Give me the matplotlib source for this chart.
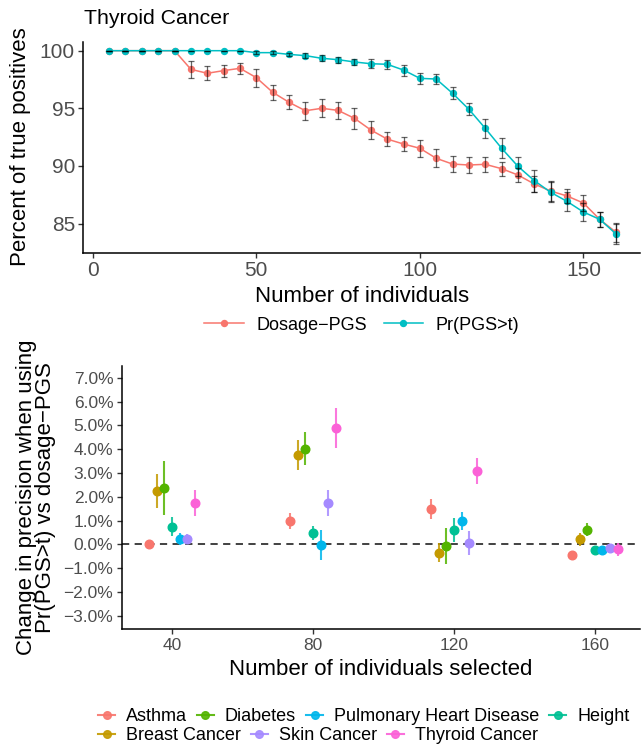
import matplotlib
matplotlib.use('Agg')
import matplotlib.pyplot as plt
from matplotlib.lines import Line2D
import numpy as np

plt.rcParams['font.family'] = ['Liberation Sans', 'DejaVu Sans']

# ---------------- data: top panel ----------------
n_individuals = [5, 10, 15, 20, 25, 30, 35, 40, 45, 50, 55, 60, 65, 70, 75, 80,
                 85, 90, 95, 100, 105, 110, 115, 120, 125, 130, 135, 140, 145, 150, 155, 160]
dosage_pgs = [100, 100, 100, 100, 100, 98.38, 98.04, 98.27, 98.47, 97.66, 96.39, 95.52,
              94.79, 95.0, 94.82, 94.13, 93.12, 92.33, 91.90, 91.53, 90.66, 90.16, 90.08,
              90.14, 89.76, 89.21, 88.43, 87.82, 87.39, 86.78, 85.36, 84.23]
dosage_err = [0, 0, 0, 0, 0, 0.75, 0.6, 0.53, 0.46, 0.78, 0.67, 0.6, 0.8, 0.77, 0.77, 0.93,
              0.8, 0.6, 0.62, 0.74, 0.77, 0.68, 0.67, 0.64, 0.62, 0.6, 0.67, 0.87, 0.65,
              0.67, 0.68, 0.85]
pr_pgs = [100, 100, 100, 100, 100, 100, 100, 100, 100, 99.83, 99.83, 99.68, 99.57, 99.34,
          99.22, 99.02, 98.87, 98.82, 98.32, 97.60, 97.54, 96.30, 94.91, 93.26, 91.53,
          89.96, 88.72, 87.71, 86.92, 86.0, 85.36, 84.09]
pr_err = [0, 0, 0, 0, 0, 0, 0, 0, 0, 0.15, 0.15, 0.15, 0.2, 0.25, 0.25, 0.25, 0.39, 0.4,
          0.48, 0.49, 0.4, 0.52, 0.52, 0.82, 0.85, 0.85, 0.95, 0.87, 0.82, 0.77, 0.68, 0.87]
top_xticks = [0, 50, 100, 150]
top_yticks = [85, 90, 95, 100]

# ---------------- data: bottom panel ----------------
n_selected = [40, 80, 120, 160]
traits = ['Asthma', 'Breast Cancer', 'Diabetes', 'Height',
          'Pulmonary Heart Disease', 'Skin Cancer', 'Thyroid Cancer']
trait_colors = ['#F8766D', '#C49A00', '#53B400', '#00C094', '#00B6EB', '#A58AFF', '#FB61D7']
asthma = [0.0, 0.98, 1.49, -0.46]
asthma_err = [0.05, 0.32, 0.43, 0.08]
breast = [2.24, 3.76, -0.35, 0.22]
breast_err = [0.70, 0.64, 0.41, 0.27]
diabetes = [2.36, 4.03, -0.07, 0.62]
diabetes_err = [1.14, 0.69, 0.74, 0.26]
height = [0.74, 0.49, 0.59, -0.25]
height_err = [0.41, 0.30, 0.50, 0.08]
pulmonary = [0.22, -0.03, 0.98, -0.22]
pulmonary_err = [0.25, 0.62, 0.39, 0.08]
skin = [0.22, 1.74, 0.07, -0.14]
skin_err = [0.22, 0.53, 0.50, 0.10]
thyroid = [1.74, 4.89, 3.09, -0.21]
thyroid_err = [0.55, 0.83, 0.54, 0.27]
bottom_yticks = [-3, -2, -1, 0, 1, 2, 3, 4, 5, 6, 7]
bottom_xticks = [40, 80, 120, 160]

values = [asthma, breast, diabetes, height, pulmonary, skin, thyroid]
errors = [asthma_err, breast_err, diabetes_err, height_err, pulmonary_err, skin_err, thyroid_err]

W, H = 642, 748
fig = plt.figure(figsize=(W / 100, H / 100), dpi=100)

TICK_GRAY = '#4D4D4D'
RED = '#F8766D'
CYAN = '#00BFC4'

# ---------------- top panel ----------------
ax1 = fig.add_axes([83.3 / W, 1 - 252.7 / H, (640 - 83.3) / W, (252.7 - 41.7) / H])
ax1.plot(n_individuals, dosage_pgs, color=RED, lw=1.1, marker='o', ms=4.3, zorder=2)
ax1.plot(n_individuals, pr_pgs, color=CYAN, lw=1.1, marker='o', ms=4.3, zorder=3)
ax1.errorbar(n_individuals, dosage_pgs, yerr=dosage_err, fmt='none', ecolor='black',
             elinewidth=0.9, capsize=2.4, capthick=0.9, alpha=0.6, zorder=4)
ax1.errorbar(n_individuals, pr_pgs, yerr=pr_err, fmt='none', ecolor='black',
             elinewidth=0.9, capsize=2.4, capthick=0.9, alpha=0.6, zorder=4)
ax1.set_xlim(-2.9, 167.3)
ax1.set_ylim(82.47, 100.78)
ax1.set_xticks(top_xticks)
ax1.set_yticks(top_yticks)
for s in ['top', 'right']:
    ax1.spines[s].set_visible(False)
for s in ['left', 'bottom']:
    ax1.spines[s].set_linewidth(1.1)
ax1.tick_params(axis='both', length=3.5, width=1.0, color='#333333',
                labelcolor=TICK_GRAY, labelsize=15, pad=2.5)

fig.text(84 / W, 1 - 19 / H, 'Thyroid Cancer', fontsize=15.3, ha='left', va='center')
fig.text(21 / W, 1 - 147 / H, 'Percent of true positives', fontsize=16,
         rotation=90, ha='center', va='center')
fig.text(362 / W, 1 - 296 / H, 'Number of individuals', fontsize=16,
         ha='center', va='center')

top_handles = [Line2D([], [], color=RED, lw=1.1, marker='o', ms=4.3),
               Line2D([], [], color=CYAN, lw=1.1, marker='o', ms=4.3)]
fig.legend(top_handles, ['Dosage\u2212PGS', 'Pr(PGS>t)'], loc='center',
           bbox_to_anchor=(362 / W, 1 - 325 / H), ncol=2, frameon=False,
           fontsize=13, handlelength=2.2, handletextpad=0.7, columnspacing=0.9,
           borderpad=0, borderaxespad=0)

# ---------------- bottom panel ----------------
ax2 = fig.add_axes([122.3 / W, 1 - 629 / H, (640 - 122.3) / W, (629 - 366) / H])
dodge = 2.15
for i, (vals, errs, col) in enumerate(zip(values, errors, trait_colors)):
    xs = np.array(n_selected, dtype=float) + (i - 3) * dodge
    ax2.errorbar(xs, vals, yerr=errs, fmt='none', ecolor=col, elinewidth=1.5,
                 alpha=0.85, zorder=3)
    ax2.plot(xs, vals, 'o', color=col, ms=6.2, zorder=4, lw=0)
ax2.axhline(0, color='#333333', lw=1.3, ls=(0, (4, 3)), zorder=2)
ax2.set_xlim(25.9, 172.8)
ax2.set_ylim(-3.56, 7.5)
ax2.set_xticks(bottom_xticks)
ax2.set_yticks(bottom_yticks)
ax2.set_yticklabels([('%.1f%%' % v).replace('-', '\u2212') for v in bottom_yticks])
for s in ['top', 'right']:
    ax2.spines[s].set_visible(False)
for s in ['left', 'bottom']:
    ax2.spines[s].set_linewidth(1.1)
ax2.tick_params(axis='both', length=3.5, width=1.0, color='#333333',
                labelcolor=TICK_GRAY, labelsize=12.5, pad=3)

fig.text(36 / W, 1 - 497.5 / H,
         'Change in precision when using\nPr(PGS>t) vs dosage\u2212PGS',
         fontsize=16, rotation=90, ha='center', va='center',
         multialignment='center', linespacing=0.92)
fig.text(381 / W, 1 - 669.5 / H, 'Number of individuals selected', fontsize=16,
         ha='center', va='center')


def trait_handle(col):
    return Line2D([], [], color=col, lw=1.5, marker='o', ms=5.5, alpha=0.9)


row1 = [0, 2, 4, 3]
row2 = [1, 5, 6]
for row, yc in [(row1, 716.7), (row2, 735.7)]:
    fig.legend([trait_handle(trait_colors[k]) for k in row], [traits[k] for k in row],
               loc='center left', bbox_to_anchor=(98 / W, 1 - yc / H), ncol=len(row),
               frameon=False, fontsize=13, handlelength=0.95, handletextpad=0.6,
               columnspacing=0.55, borderpad=0, borderaxespad=0)

fig.savefig('out.png', dpi=100)
